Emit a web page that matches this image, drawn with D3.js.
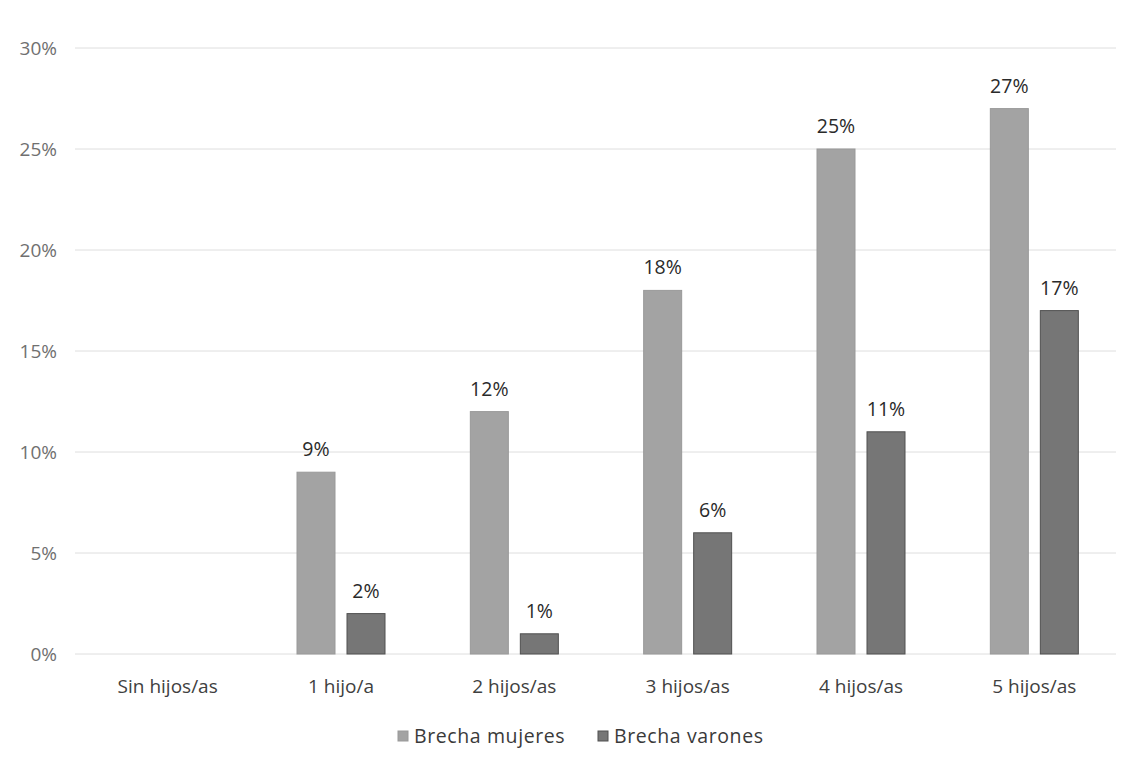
<!DOCTYPE html>
<html>
<head>
<meta charset="utf-8">
<script src="https://cdn.jsdelivr.net/npm/d3@7"></script>
<style>
  html, body { margin: 0; padding: 0; background: #fff; }
  svg { display: block; }
  text { font-family: "Open Sans", "Noto Sans", sans-serif; }
</style>
</head>
<body>
<svg id="chart" width="1139" height="764"></svg>
<script>
// Categories (number of children)
const categories = ["Sin hijos/as", "1 hijo/a", "2 hijos/as", "3 hijos/as", "4 hijos/as", "5 hijos/as"];
// Gap by sex, in percent (null = no bar)
const brechaMujeres = [null, 9, 12, 18, 25, 27];
const brechaVarones = [null, 2, 1, 6, 11, 17];
const seriesNames = ["Brecha mujeres", "Brecha varones"];
const yTicks = [0, 5, 10, 15, 20, 25, 30];

const colors = ["#a3a3a3", "#767676"];
const strokes = ["#999999", "#505050"];

const svg = d3.select("#chart");
const margin = { left: 81, right: 18 };
const W = 1139;

const x0 = d3.scaleBand().domain(categories).range([margin.left, W - margin.right]).padding(0);
const inner = x0.bandwidth();
const x1 = d3.scaleBand().domain([0, 1])
  .range([inner / 2 - 44, inner / 2 + 44]).paddingInner(0.24);
const y = d3.scaleLinear().domain([0, 30]).range([654, 48]);

// Gridlines
svg.append("g")
  .selectAll("line").data(yTicks).join("line")
  .attr("x1", 75).attr("x2", 1116)
  .attr("y1", d => y(d)).attr("y2", d => y(d))
  .attr("stroke", "#dedede").attr("stroke-width", 1);

// Y axis labels
const yAxis = d3.axisLeft(y).tickValues(yTicks).tickFormat(d => d + "%").tickSize(0).tickPadding(0);
const gy = svg.append("g").attr("transform", "translate(57,0)").call(yAxis);
gy.select(".domain").remove();
gy.selectAll("text").attr("font-size", 19).attr("fill", "#707070")
  .attr("font-family", "'Open Sans', sans-serif");

// X axis labels
const xAxis = d3.axisBottom(x0).tickSize(0).tickPadding(0);
const gx = svg.append("g").attr("transform", "translate(0,679)").call(xAxis);
gx.select(".domain").remove();
gx.selectAll("text").attr("font-size", 19).attr("fill", "#404040")
  .attr("font-family", "'Open Sans', sans-serif");

// Bars
const series = [brechaMujeres, brechaVarones];
const rows = [];
categories.forEach((c, i) => {
  series.forEach((s, k) => {
    if (s[i] != null) rows.push({ cat: c, k, v: s[i] });
  });
});

svg.append("g").selectAll("rect").data(rows).join("rect")
  .attr("x", d => x0(d.cat) + x1(d.k))
  .attr("y", d => y(d.v))
  .attr("width", x1.bandwidth())
  .attr("height", d => y(0) - y(d.v))
  .attr("fill", d => colors[d.k])
  .attr("stroke", d => strokes[d.k])
  .attr("stroke-width", 1);

// Value labels
svg.append("g").selectAll("text").data(rows).join("text")
  .attr("x", d => x0(d.cat) + x1(d.k) + x1.bandwidth() / 2)
  .attr("y", d => y(d.v) - 16)
  .attr("text-anchor", "middle")
  .attr("font-size", 19.5)
  .attr("fill", "#2a2a2a")
  .text(d => d.v + "%");

// Legend
const legend = svg.append("g").attr("transform", "translate(398,736)");
const legendX = [0, 200];
seriesNames.forEach((name, k) => {
  const g = legend.append("g").attr("transform", `translate(${legendX[k]},0)`);
  g.append("rect").attr("x", 0).attr("y", -5).attr("width", 10).attr("height", 10)
    .attr("fill", colors[k]).attr("stroke", strokes[k]);
  g.append("text").attr("x", 16).attr("y", 7).attr("font-size", 19.5)
    .attr("letter-spacing", 0.6)
    .attr("fill", "#3a3a3a").text(name);
});
</script>
</body>
</html>
